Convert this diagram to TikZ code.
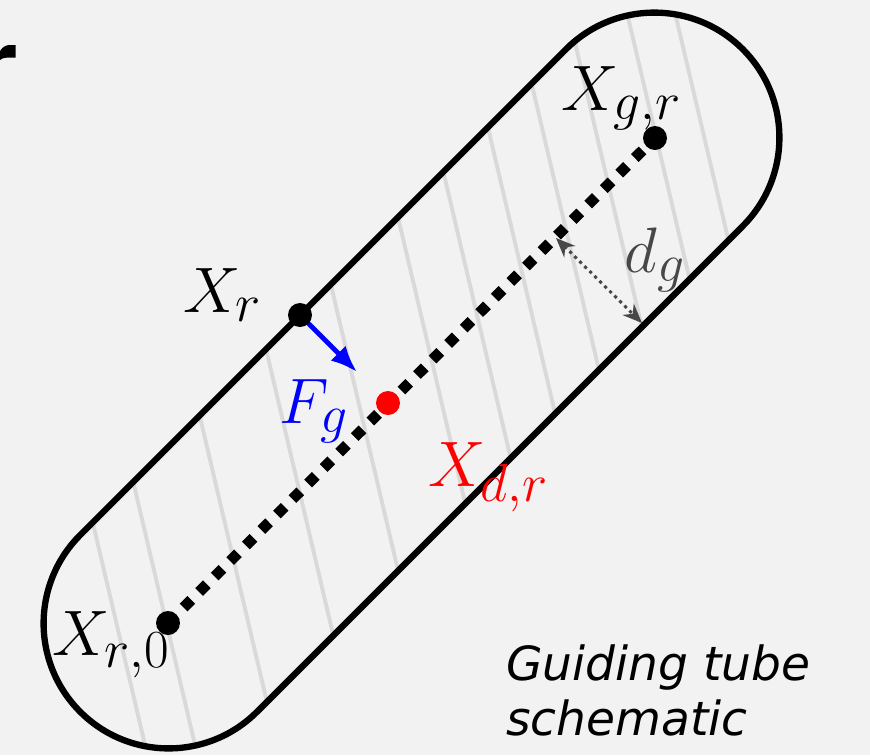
\documentclass[tikz,border=0pt]{standalone}
\usepackage{amsmath}
\usepackage{fontspec}
\newfontfamily\dejavu{DejaVu Sans}
\usepackage{xcolor}
\usetikzlibrary{arrows.meta, positioning}
\definecolor{nenxam}{HTML}{F2F2F2}
\definecolor{gachxam}{HTML}{D9D9D9}
\definecolor{xamdam}{HTML}{474747}

\begin{document}
\begin{tikzpicture}[x=0.02cm, y=-0.02cm, >=latex,
    diem/.style={circle, fill=black, inner sep=0pt, minimum size=0.48cm},
    nhan/.style={font=\Huge, scale=1.47, inner sep=0pt, anchor=base west},
    gach/.style={gachxam, line width=2.2pt},
    vienong/.style={line width=3.6pt},
    truc/.style={line width=6.2pt, dash pattern=on 6.2pt off 6.3pt}]
    % Nen va khung hinh
    \fill[nenxam] (0,0) rectangle (870,755);
    \useasboundingbox (0,0) rectangle (870,755);
    \fill (0,51) .. controls (3,46) and (7,45) .. (10,45) -- (15.5,45) -- (15.5,57.5)
        -- (10,57.5) .. controls (6,57.5) and (2,58) .. (0,60) -- cycle;

    % Cac diem chinh
    \coordinate (Xr0) at (168,623);
    \coordinate (Xgr) at (655,138);
    \coordinate (Xr) at (300,315);
    \coordinate (Xdr) at (388,403);
    \coordinate (tam) at (411.5,380.5);

    % Gach an ben trong ong
    \begin{scope}
        \clip[shift={(tam)}, rotate=45, rounded corners=2.5cm]
            (-468.5,-125) rectangle (468.5,125);
        \foreach \hx in {64,114,196,278,358,441,497,552,606,659,718,766} {
            \draw[gach] (\hx-94,0) -- (\hx+83.4,755);
        }
    \end{scope}

    % Vien ong dan huong
    \draw[vienong, shift={(tam)}, rotate=45, rounded corners=2.5cm]
        (-468.5,-125) rectangle (468.5,125);

    % Truc cham va khoang cach d_g
    \draw[truc] (Xr0) -- (Xgr);
    \coordinate (dgA) at (556,238);
    \coordinate (dgB) at (642,323);
    \draw[xamdam, line width=1.7pt, dash pattern=on 1.8pt off 2.2pt,
        {Stealth[length=11pt, width=9pt]}-{Stealth[length=11pt, width=9pt]}] (dgA) -- (dgB);

    % Luc F_g
    \coordinate (Fend) at (357,372);
    \draw[blue, line width=2.8pt, -{Latex[length=15pt, width=12pt]}] (Xr) -- (Fend);

    % Cac cham tron
    \node[diem] (dXr0) at (Xr0) {};
    \node[diem] (dXgr) at (Xgr) {};
    \node[diem] (dXr) at (Xr) {};
    \node[diem, fill=red] (dXdr) at (Xdr) {};

    % Nhan
    \node[nhan] (lXgr) at (561,110) {$X_{g{,}r}$};
    \node[nhan] (lXr) at (183,312) {$X_r$};
    \node[nhan] (lXr0) at (52,655) {$X_{r{,}0}$};
    \node[nhan, blue] (lFg) at (279,423) {$F_g$};
    \node[nhan, red] (lXdr) at (428,486) {$X_{d{,}r}$};
    \node[nhan, xamdam] (ldg) at (624,272) {$d_g$};
    \node[anchor=base west, inner sep=0pt, align=left,
        font=\dejavu\itshape\fontsize{26.8}{31.3}\selectfont] (chuthich) at (506,735)
        {Guiding tube\\schematic};
\end{tikzpicture}
\end{document}
